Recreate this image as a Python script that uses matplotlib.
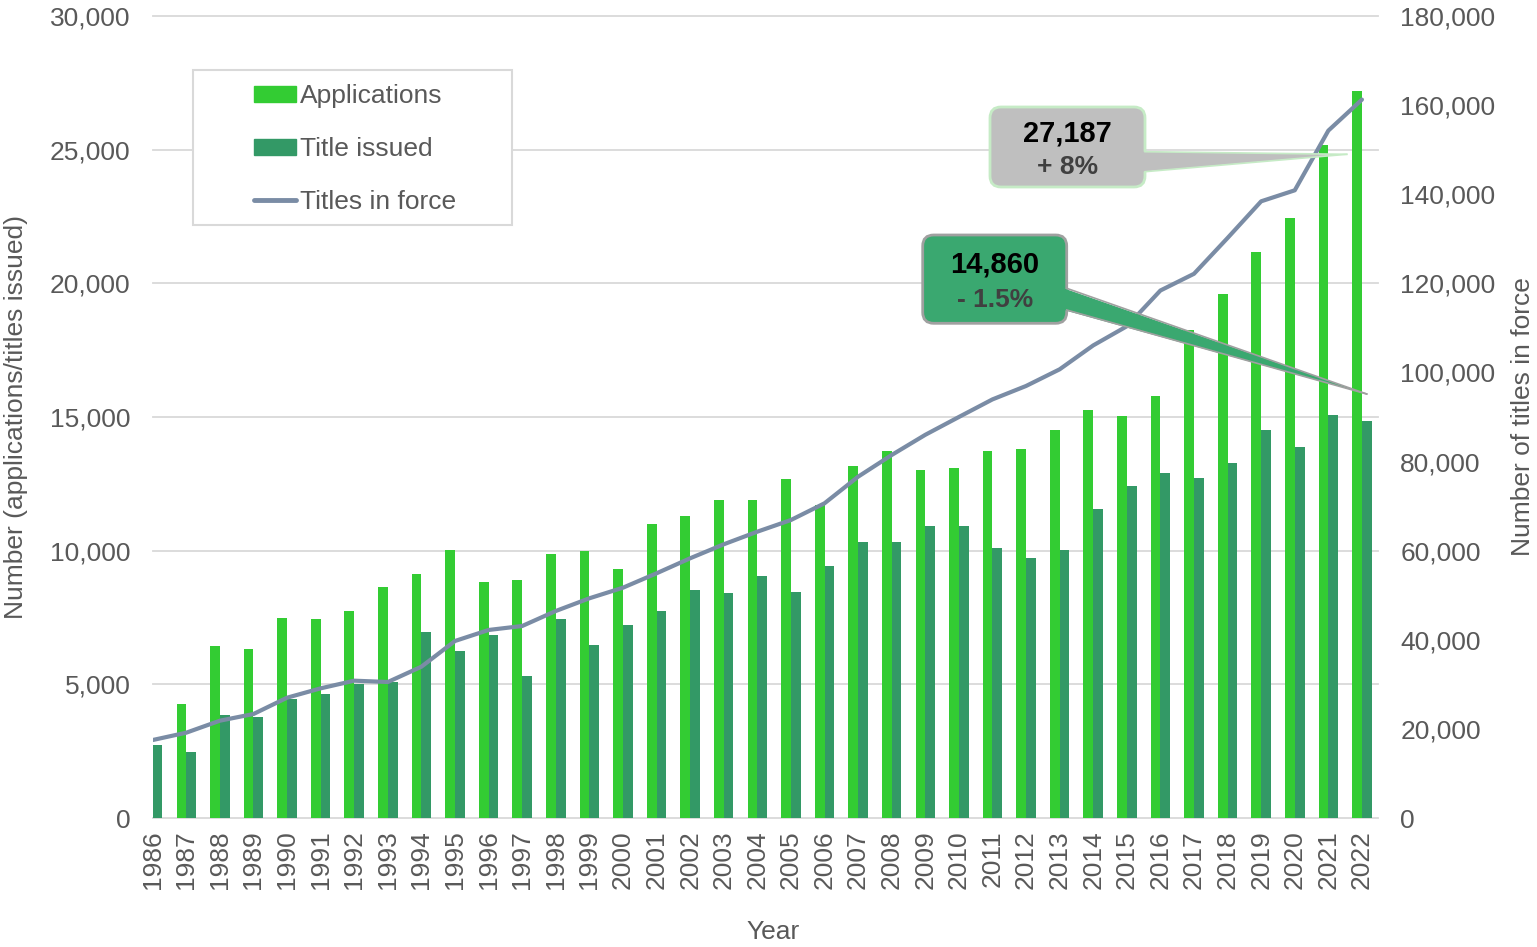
import matplotlib
matplotlib.use("Agg")
import matplotlib.pyplot as plt
import matplotlib.transforms as mtransforms
from matplotlib.patches import FancyBboxPatch, Polygon, Patch, Rectangle
from matplotlib.lines import Line2D
from matplotlib.ticker import FuncFormatter, MultipleLocator
import numpy as np

# Data
years = list(range(1986, 2023))
applications = [3400, 4270, 6450, 6310, 7480, 7450, 7760, 8630, 9120, 10040,
                8820, 8900, 9870, 10000, 9320, 11000, 11290, 11910, 11910, 12670,
                11710, 13180, 13730, 13030, 13090, 13730, 13800, 14500, 15250, 15020,
                15770, 18250, 19610, 21180, 22450, 25170, 27187]
titles_issued = [2720, 2480, 3840, 3780, 4450, 4630, 5010, 5100, 6960, 6240,
                 6850, 5300, 7450, 6470, 7220, 7740, 8520, 8430, 9070, 8470,
                 9430, 10340, 10330, 10930, 10940, 10110, 9720, 10040, 11570, 12430,
                 12890, 12700, 13270, 14520, 13880, 15090, 14860]
titles_in_force = [17500, 19150, 21840, 23340, 27000, 29100, 30820, 30520, 33960, 39730,
                   42200, 43090, 46460, 49310, 51690, 54920, 58290, 61430, 64260, 66880,
                   70630, 76600, 81470, 86000, 90000, 93950, 96960, 100700, 106070, 110360,
                   118390, 122140, 130180, 138410, 140880, 154280, 161240]

# Colours
c_app = "#33CC33"
c_iss = "#339966"
c_line = "#7A8CA5"
c_grid = "#D9D9D9"
c_text = "#595959"

plt.rcParams["font.family"] = ["Liberation Sans", "DejaVu Sans"]

W, H = 1537, 947
fig = plt.figure(figsize=(W / 100, H / 100), dpi=100)
ax = fig.add_axes([152.7 / W, 1 - 818 / H, (1378 - 152.7) / W, (818 - 16) / H])
ax2 = ax.twinx()

x = np.arange(len(years))
w = 0.29
ax.bar(x - w / 2, applications, width=w, color=c_app, linewidth=0, zorder=2)
ax.bar(x + w / 2, titles_issued, width=w, color=c_iss, linewidth=0, zorder=2)
ax2.plot(x, titles_in_force, color=c_line, lw=3, solid_capstyle="round", zorder=3)

ax.set_xlim(0, (1378 - 152.7) / 33.59)
ax.set_ylim(0, 30000)
ax2.set_ylim(0, 180000)
ax.yaxis.set_major_locator(MultipleLocator(5000))
ax2.yaxis.set_major_locator(MultipleLocator(20000))
fmt = FuncFormatter(lambda v, p: f"{v:,.0f}")
ax.yaxis.set_major_formatter(fmt)
ax2.yaxis.set_major_formatter(fmt)

ax.set_xticks(x)
ax.set_xticklabels([str(y) for y in years], rotation=90)

ax.yaxis.grid(True, color=c_grid, lw=1.3, clip_on=False)
ax.set_axisbelow(True)
for a in (ax, ax2):
    for s in a.spines.values():
        s.set_visible(False)
    a.tick_params(length=0, labelsize=19, labelcolor=c_text)
ax.tick_params(axis="y", pad=16)
ax2.tick_params(axis="y", pad=16)
ax.tick_params(axis="x", pad=9)

ax.set_xlabel("Year", fontsize=19, color=c_text)
ax.xaxis.set_label_coords((773 - 152.7) / (1378 - 152.7), (818 - 932) / (818 - 16))
ax.xaxis.label.set_va("center")
ax.set_ylabel("Number (applications/titles issued)", fontsize=19, color=c_text, labelpad=16)
ax2.set_ylabel("Number of titles in force", fontsize=19, color=c_text, labelpad=11)

# Legend with its own frame
fig.patches.append(Rectangle((193 / W, 1 - 225 / H), 319 / W, 155 / H,
                             transform=fig.transFigure, facecolor="white",
                             edgecolor=c_grid, lw=1.5, zorder=5))
handles = [Patch(color=c_app), Patch(color=c_iss),
           Line2D([], [], color=c_line, lw=3.5, solid_capstyle="round")]
leg = fig.legend(handles, ["Applications", "Title issued", "Titles in force"],
                 loc="upper left", bbox_to_anchor=(254 / W, 1 - 84 / H),
                 frameon=False, fontsize=19, labelcolor=c_text, borderpad=0,
                 borderaxespad=0, handlelength=1.6, handleheight=0.55,
                 handletextpad=0.15, labelspacing=1.1)
leg.set_zorder(6)

# Callouts drawn in image pixel coordinates (y measured from the top)
pix = mtransforms.Affine2D().scale(1, -1).translate(0, H)
disp = mtransforms.IdentityTransform()


def callout(x0, y0, bw, bh, fill, edge, base_top, base_bot, tip, line1, line2, ty1, ty2):
    box = FancyBboxPatch((x0, H - (y0 + bh)), bw, bh,
                         boxstyle="round,pad=0,rounding_size=11",
                         facecolor=fill, edgecolor=edge, lw=2, transform=disp, zorder=10)
    fig.patches.append(box)
    xr = x0 + bw
    wedge = Polygon([(xr - 3, base_top), tip, (xr - 3, base_bot)], closed=True,
                    facecolor=fill, edgecolor="none", transform=pix, zorder=11)
    fig.patches.append(wedge)
    for by in (base_top, base_bot):
        fig.lines.append(Line2D([xr, tip[0]], [by, tip[1]], color=edge, lw=1.2,
                                transform=pix, zorder=12))
    cx = x0 + bw / 2
    fig.text(cx, ty1, line1, transform=pix, ha="center", va="center",
             fontsize=21, fontweight="bold", color="black", zorder=13)
    fig.text(cx, ty2, line2, transform=pix, ha="center", va="center",
             fontsize=19, fontweight="bold", color="#404040", zorder=13)


callout(990, 107, 155, 80, "#BFBFBF", "#C6EBC6", 151.7, 171.7, (1346.7, 154.3),
        f"{applications[-1]:,}", "+ 8%", 133, 167)
callout(922.7, 235, 144, 88.3, "#3AA870", "#A0A0A0", 288.3, 310, (1366.7, 394),
        f"{titles_issued[-1]:,}", "- 1.5%", 264, 300)

fig.savefig("out.png", dpi=100)
